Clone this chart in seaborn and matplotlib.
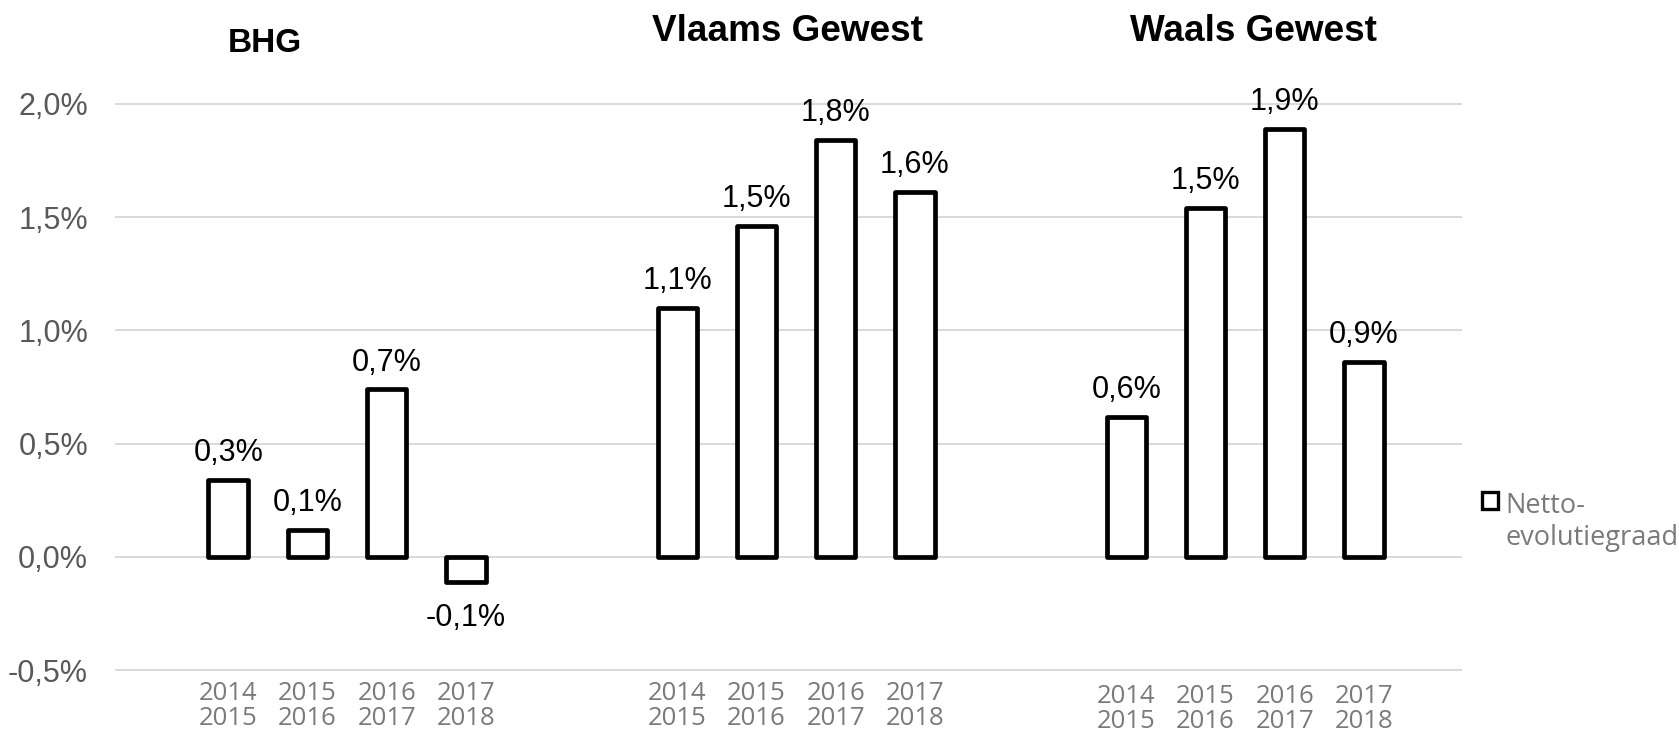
import matplotlib
matplotlib.use("Agg")
import matplotlib.pyplot as plt
from matplotlib.patches import Patch
import seaborn as sns

regions = ["BHG", "Vlaams Gewest", "Waals Gewest"]
periods = ["2014\n2015", "2015\n2016", "2016\n2017", "2017\n2018"]
bhg = [0.34, 0.12, 0.74, -0.11]
vlaams = [1.10, 1.46, 1.84, 1.61]
waals = [0.62, 1.54, 1.89, 0.86]
series_name = "Netto-\nevolutiegraad"
y_ticks = [-0.5, 0.0, 0.5, 1.0, 1.5, 2.0]

sns.set_theme(style="white")
plt.rcParams["font.family"] = ["Liberation Sans", "DejaVu Sans"]

W, H = 1679, 731
fig = plt.figure(figsize=(W / 100, H / 100), dpi=100)

# panel edges in pixels and x-limits (same px per category in every panel)
edges = [115, 572, 1021, 1462]
xlims = [(-1.43, 4.34), (-1.33, 4.34), (-1.33, 4.24)]
ylim = (-0.52, 2.02)
top_px, bot_px = 99.3, 674.8

def pct(v):
    return f"{v:.1f}%".replace(".", ",")

axes = []
for i, (name, vals) in enumerate(zip(regions, [bhg, vlaams, waals])):
    ax = fig.add_axes([edges[i] / W, 1 - bot_px / H,
                       (edges[i + 1] - edges[i]) / W, (bot_px - top_px) / H])
    sns.barplot(x=periods, y=vals, ax=ax, color="white", saturation=1,
                edgecolor="black", linewidth=3.4, width=0.5, order=periods)
    for p in ax.patches:
        p.set_joinstyle("round")
    ax.set_xlim(*xlims[i])
    ax.set_ylim(*ylim)
    ax.set_yticks(y_ticks)
    ax.yaxis.grid(True, color="#d9d9d9", linewidth=1.4)
    ax.set_axisbelow(True)
    sns.despine(ax=ax, left=True, bottom=True)
    ax.set_xlabel("")
    ax.set_ylabel("")

    cont = ax.containers[0]
    ax.bar_label(cont, labels=[pct(v) if v >= 0 else "" for v in vals],
                 padding=8.5, fontsize=22, color="black")
    ax.bar_label(cont, labels=[pct(v) if v < 0 else "" for v in vals],
                 padding=15, fontsize=22, color="black")

    ax.tick_params(axis="x", length=0, pad=4.5 if i < 2 else 6.5)
    for t in ax.get_xticklabels():
        t.set_fontfamily(["Open Sans", "DejaVu Sans"])
        t.set_fontsize(18.5)
        t.set_color("#7a7a7a")
        t.set_linespacing(1.02)
    if i == 0:
        ax.set_yticklabels([pct(v) for v in y_ticks], fontsize=22, color="#595959")
        ax.tick_params(axis="y", length=0, pad=19.4)
    else:
        ax.tick_params(axis="y", length=0, labelleft=False)
    axes.append(ax)

# panel titles
fig.text(265 / W, 1 - 52 / H, regions[0], ha="center", va="baseline",
         fontsize=24, fontweight="bold", color="black")
fig.text(787 / W, 1 - 41 / H, regions[1], ha="center", va="baseline",
         fontsize=26.6, fontweight="bold", color="black")
fig.text(1253 / W, 1 - 41 / H, regions[2], ha="center", va="baseline",
         fontsize=26.6, fontweight="bold", color="black")

handle = Patch(facecolor="white", edgecolor="black", linewidth=2.4)
leg = fig.legend(handles=[handle], labels=[series_name], loc="upper left",
                 bbox_to_anchor=(1482 / W, 1 - 492 / H), frameon=False,
                 prop={"family": ["Open Sans", "DejaVu Sans"], "size": 19.5},
                 handlelength=0.58, handleheight=0.58, handletextpad=0.3,
                 borderpad=0, borderaxespad=0, labelcolor="#7a7a7a")
leg.get_texts()[0].set_linespacing(1.18)
# put the marker next to the first line of the label, as in Excel
for col in leg._legend_handle_box.get_children():
    for row in col.get_children():
        row.align = "top"

fig.savefig("out.png", dpi=100)
